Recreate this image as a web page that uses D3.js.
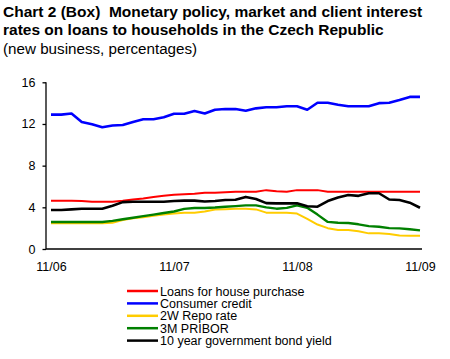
<!DOCTYPE html>
<html><head><meta charset="utf-8">
<script src="https://cdn.jsdelivr.net/npm/d3@7"></script>
<style>
html,body{margin:0;padding:0;background:#fff;}
svg{display:block;font-family:"Liberation Sans",Arial,sans-serif;}
text{white-space:pre;}
</style></head>
<body><svg id="c" width="450" height="359"></svg>
<script>
const titleLines = ["Chart 2 (Box)  Monetary policy, market and client interest",
                    "rates on loans to households in the Czech Republic"];
const subtitle = "(new business, percentages)";
const months = d3.range(37); // 11/06 .. 11/09 monthly
const xTickIdx = [0, 12, 24, 36];
const xTickLabels = ["11/06", "11/07", "11/08", "11/09"];
const yTicks = [0, 4, 8, 12, 16];
const seriesNames = ["Loans for house purchase", "Consumer credit", "2W Repo rate", "3M PRIBOR", "10 year government bond yield"];
const seriesColors = ["#FF0000", "#0000FF", "#FFCC00", "#008000", "#000000"];
const housePurchase = [4.64,4.64,4.64,4.6,4.54,4.54,4.54,4.62,4.75,4.85,5.0,5.1,5.2,5.25,5.3,5.4,5.4,5.45,5.5,
  5.5,5.5,5.65,5.55,5.5,5.65,5.65,5.65,5.5,5.5,5.5,5.5,5.5,5.5,5.5,5.5,5.5,5.5];
const consumerCredit = [12.9,12.9,13.0,12.2,11.97,11.68,11.85,11.9,12.2,12.45,12.45,12.65,12.98,12.98,13.24,13.0,13.37,13.43,13.43,
  13.27,13.5,13.6,13.6,13.7,13.7,13.37,14.04,14.04,13.85,13.7,13.7,13.7,14.0,14.04,14.3,14.6,14.6];
const repoRate = [2.46,2.46,2.46,2.46,2.46,2.46,2.52,2.78,2.95,3.05,3.2,3.3,3.4,3.49,3.49,3.6,3.8,3.82,3.86,
  3.87,3.8,3.49,3.49,3.49,3.4,2.9,2.35,2.0,1.82,1.82,1.7,1.5,1.5,1.45,1.3,1.28,1.28];
const pribor = [2.59,2.59,2.59,2.59,2.59,2.59,2.7,2.85,3.0,3.15,3.3,3.45,3.6,3.85,3.93,3.93,3.98,4.06,4.12,
  4.19,4.19,4.0,3.87,3.95,4.19,3.95,3.3,2.6,2.52,2.5,2.37,2.2,2.14,2.0,1.98,1.9,1.79];
const bondYield = [3.74,3.74,3.8,3.87,3.87,3.87,4.15,4.5,4.54,4.54,4.54,4.54,4.6,4.64,4.64,4.56,4.6,4.7,4.73,
  5.0,4.8,4.4,4.38,4.38,4.38,4.1,4.06,4.6,4.95,5.18,5.1,5.35,5.35,4.75,4.7,4.45,3.96];
const seriesData = [housePurchase, consumerCredit, repoRate, pribor, bondYield];
const seriesWidths = [2, 2.6, 2, 2.4, 2.6];

const svg = d3.select("#c");
const x = d3.scaleLinear().domain([0, 36]).range([51, 420]);
const y = d3.scaleLinear().domain([0, 16]).range([249, 82.3]);

// titles
svg.selectAll("text.title").data(titleLines).join("text")
  .attr("class","title").attr("x",3).attr("y",(d,i)=>16.5+i*18.3)
  .attr("font-size",15.5).attr("font-weight","bold").attr("fill","#000").text(d=>d);
svg.append("text").attr("x",3).attr("y",53.5).attr("font-size",15.2).attr("fill","#000").text(subtitle);

// y axis
const yAxis = d3.axisLeft(y).tickValues(yTicks).tickSize(3.5).tickPadding(7).tickFormat(d3.format("d"));
const gy = svg.append("g").attr("transform","translate(46,0)").call(yAxis);
gy.select(".domain").attr("stroke","#000").attr("stroke-width",1.3).attr("d","M0,82.3V249");
gy.selectAll("text").attr("font-size",12.5).attr("font-family","Liberation Sans, Arial, sans-serif").attr("fill","#000");
gy.selectAll("line").attr("stroke","#000").attr("stroke-width",1.3);

// x axis
const xAxis = d3.axisBottom(x).tickValues(xTickIdx).tickSize(0).tickPadding(13)
  .tickFormat((d,i)=>xTickLabels[i]);
const gx = svg.append("g").attr("transform","translate(0,249)").call(xAxis);
gx.select(".domain").attr("stroke","#000").attr("stroke-width",1.5).attr("d","M46,0H422");
gx.selectAll("text").attr("font-size",12.5).attr("font-family","Liberation Sans, Arial, sans-serif").attr("fill","#000");

// lines
const line = d3.line().x((d,i)=>x(months[i])).y(d=>y(d));
seriesData.forEach((s,k)=>{
  svg.append("path").datum(s).attr("fill","none").attr("stroke",seriesColors[k])
    .attr("stroke-width",seriesWidths[k]).attr("stroke-linejoin","round").attr("d",line);
});

// legend
const lg = svg.append("g");
seriesNames.forEach((n,k)=>{
  const yy = 291 + k*12.4;
  lg.append("line").attr("x1",127).attr("x2",158).attr("y1",yy).attr("y2",yy)
    .attr("stroke",seriesColors[k]).attr("stroke-width",2.5);
  lg.append("text").attr("x",160).attr("y",yy+4.5).attr("font-size",12.5).attr("fill","#000").text(n);
});
</script></body></html>
